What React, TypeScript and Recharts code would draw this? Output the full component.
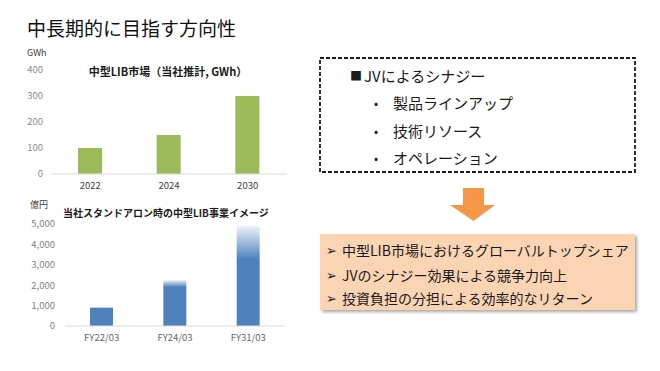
import React from 'react';
import { BarChart, Bar, XAxis, YAxis, Cell } from 'recharts';

// ---- data ----
const pageTitle = '中長期的に目指す方向性';

const marketTitle = '中型LIB市場（当社推計, GWh）';
const marketUnit = 'GWh';
const marketYears = ['2022', '2024', '2030'];
const marketGWh = [100, 150, 300];
const marketTicks = [0, 100, 200, 300, 400];

const salesTitle = '当社スタンドアロン時の中型LIB事業イメージ';
const salesUnit = '億円';
const salesPeriods = ['FY22/03', 'FY24/03', 'FY31/03'];
const salesValues = [900, 2250, 4900];
const salesTicks = [0, 1000, 2000, 3000, 4000, 5000];
// fraction of each bar (from its top) that fades out
const salesFade = [0, 0.15, 0.33];

const synergyHeading = 'JVによるシナジー';
const synergyItems = ['製品ラインアップ', '技術リソース', 'オペレーション'];
const goalItems = [
  '中型LIB市場におけるグローバルトップシェア',
  'JVのシナジー効果による競争力向上',
  '投資負担の分担による効率的なリターン',
];

const marketData = marketYears.map((y, i) => ({ name: y, value: marketGWh[i] }));
const salesData = salesPeriods.map((p, i) => ({ name: p, value: salesValues[i] }));

const FONT = '"Noto Sans CJK JP", "Noto Sans", sans-serif';
const GREEN = '#9BBB59';
const BLUE = '#4F81BD';
const ORANGE = '#F79646';

const fmt = (v: number) => v.toLocaleString('en-US');

const Txt = ({ x, y, size, children, color = '#1a1a1a', bold = false, h = 20 }: any) => (
  <div
    style={{
      position: 'absolute',
      left: x,
      top: y - h / 2,
      height: h,
      lineHeight: `${h}px`,
      fontSize: size,
      color,
      fontWeight: bold ? 700 : 400,
      whiteSpace: 'nowrap',
    }}
  >
    {children}
  </div>
);

export default function App() {
  return (
    <div
      style={{
        position: 'fixed',
        left: 0,
        top: 0,
        width: 660,
        height: 371,
        background: '#fff',
        fontFamily: FONT,
        overflow: 'hidden',
      }}
    >
      <Txt x={27} y={28} size={19} h={28} color="#111">{pageTitle}</Txt>

      {/* top chart */}
      <Txt x={27} y={53} size={9} color="#404040" h={14}>{marketUnit}</Txt>
      <div
        style={{
          position: 'absolute',
          left: 68,
          width: 200,
          top: 63,
          lineHeight: '16px',
          textAlign: 'center',
          fontSize: 11,
          fontWeight: 700,
          color: '#1a1a1a',
          whiteSpace: 'nowrap',
        }}
      >
        {marketTitle}
      </div>
      <div style={{ position: 'absolute', left: 0, top: 50 }}>
        <BarChart
          width={300}
          height={150}
          data={marketData}
          margin={{ top: 20, right: 13, left: 0, bottom: 6 }}
        >
          <XAxis
            dataKey="name"
            height={20}
            tickLine={false}
            axisLine={{ stroke: '#D9D9D9' }}
            tick={{ fontSize: 9.5, fill: '#404040', fontFamily: FONT }}
          />
          <YAxis
            width={51}
            domain={[0, 400]}
            ticks={marketTicks}
            tickLine={false}
            axisLine={false}
            tick={{ fontSize: 9.5, fill: '#8c8c8c', fontFamily: FONT }}
          />
          <Bar dataKey="value" fill={GREEN} barSize={24} isAnimationActive={false} />
        </BarChart>
      </div>

      {/* bottom chart */}
      <Txt x={30} y={205} size={9} color="#404040" h={14}>{salesUnit}</Txt>
      <Txt x={63} y={213} size={10} bold h={16}>{salesTitle}</Txt>
      <div style={{ position: 'absolute', left: 0, top: 200 }}>
        <BarChart
          width={300}
          height={160}
          data={salesData}
          margin={{ top: 24, right: 15, left: 0, bottom: 14 }}
        >
          <defs>
            {salesFade.map((f, i) => (
              <linearGradient key={i} id={`fade${i}`} x1="0" y1="0" x2="0" y2="1">
                <stop offset="0" stopColor={f > 0 ? '#eef3fa' : BLUE} />
                <stop offset={f} stopColor={BLUE} />
                <stop offset="1" stopColor={BLUE} />
              </linearGradient>
            ))}
          </defs>
          <XAxis
            dataKey="name"
            height={20}
            tickLine={false}
            axisLine={{ stroke: '#D9D9D9' }}
            tick={{ fontSize: 9.5, fill: '#666666', fontFamily: FONT }}
          />
          <YAxis
            width={65}
            domain={[0, 5000]}
            ticks={salesTicks}
            tickFormatter={fmt}
            tickMargin={4}
            tickLine={false}
            axisLine={false}
            tick={{ fontSize: 9.5, fill: '#7f7f7f', fontFamily: FONT }}
          />
          <Bar dataKey="value" barSize={23} isAnimationActive={false}>
            {salesData.map((d, i) => (
              <Cell key={d.name} fill={`url(#fade${i})`} />
            ))}
          </Bar>
        </BarChart>
      </div>

      {/* synergy box */}
      <svg style={{ position: 'absolute', left: 318, top: 56 }} width={320} height={120}>
        <rect
          x={2}
          y={2}
          width={315}
          height={114}
          fill="none"
          stroke="#1a1a1a"
          strokeWidth={1.8}
          strokeDasharray="4 2"
        />
      </svg>
      <Txt x={350} y={76} size={12} h={20}>■</Txt>
      <Txt x={364} y={76} size={15} h={22}>{synergyHeading}</Txt>
      {synergyItems.map((t, i) => (
        <React.Fragment key={t}>
          <Txt x={374} y={103 + i * 27.5} size={12} h={20}>•</Txt>
          <Txt x={393} y={103 + i * 27.5} size={15} h={22}>{t}</Txt>
        </React.Fragment>
      ))}

      {/* arrow */}
      <svg style={{ position: 'absolute', left: 448, top: 186 }} width={50} height={38}>
        <polygon
          points="15,2 36,2 36,19 47,19 25.5,35 2,19 15,19"
          fill={ORANGE}
        />
      </svg>

      {/* goal box */}
      <div
        style={{
          position: 'absolute',
          left: 320,
          top: 234,
          width: 315,
          height: 76,
          background: '#FBD4B4',
          boxShadow: '2px 2px 3px rgba(0,0,0,0.35)',
        }}
      />
      {goalItems.map((t, i) => (
        <React.Fragment key={t}>
          <Txt x={326} y={[250, 275, 298][i]} size={13} h={20}>➢</Txt>
          <Txt x={342} y={[250, 275, 298][i]} size={14} h={20}>{t}</Txt>
        </React.Fragment>
      ))}
    </div>
  );
}
